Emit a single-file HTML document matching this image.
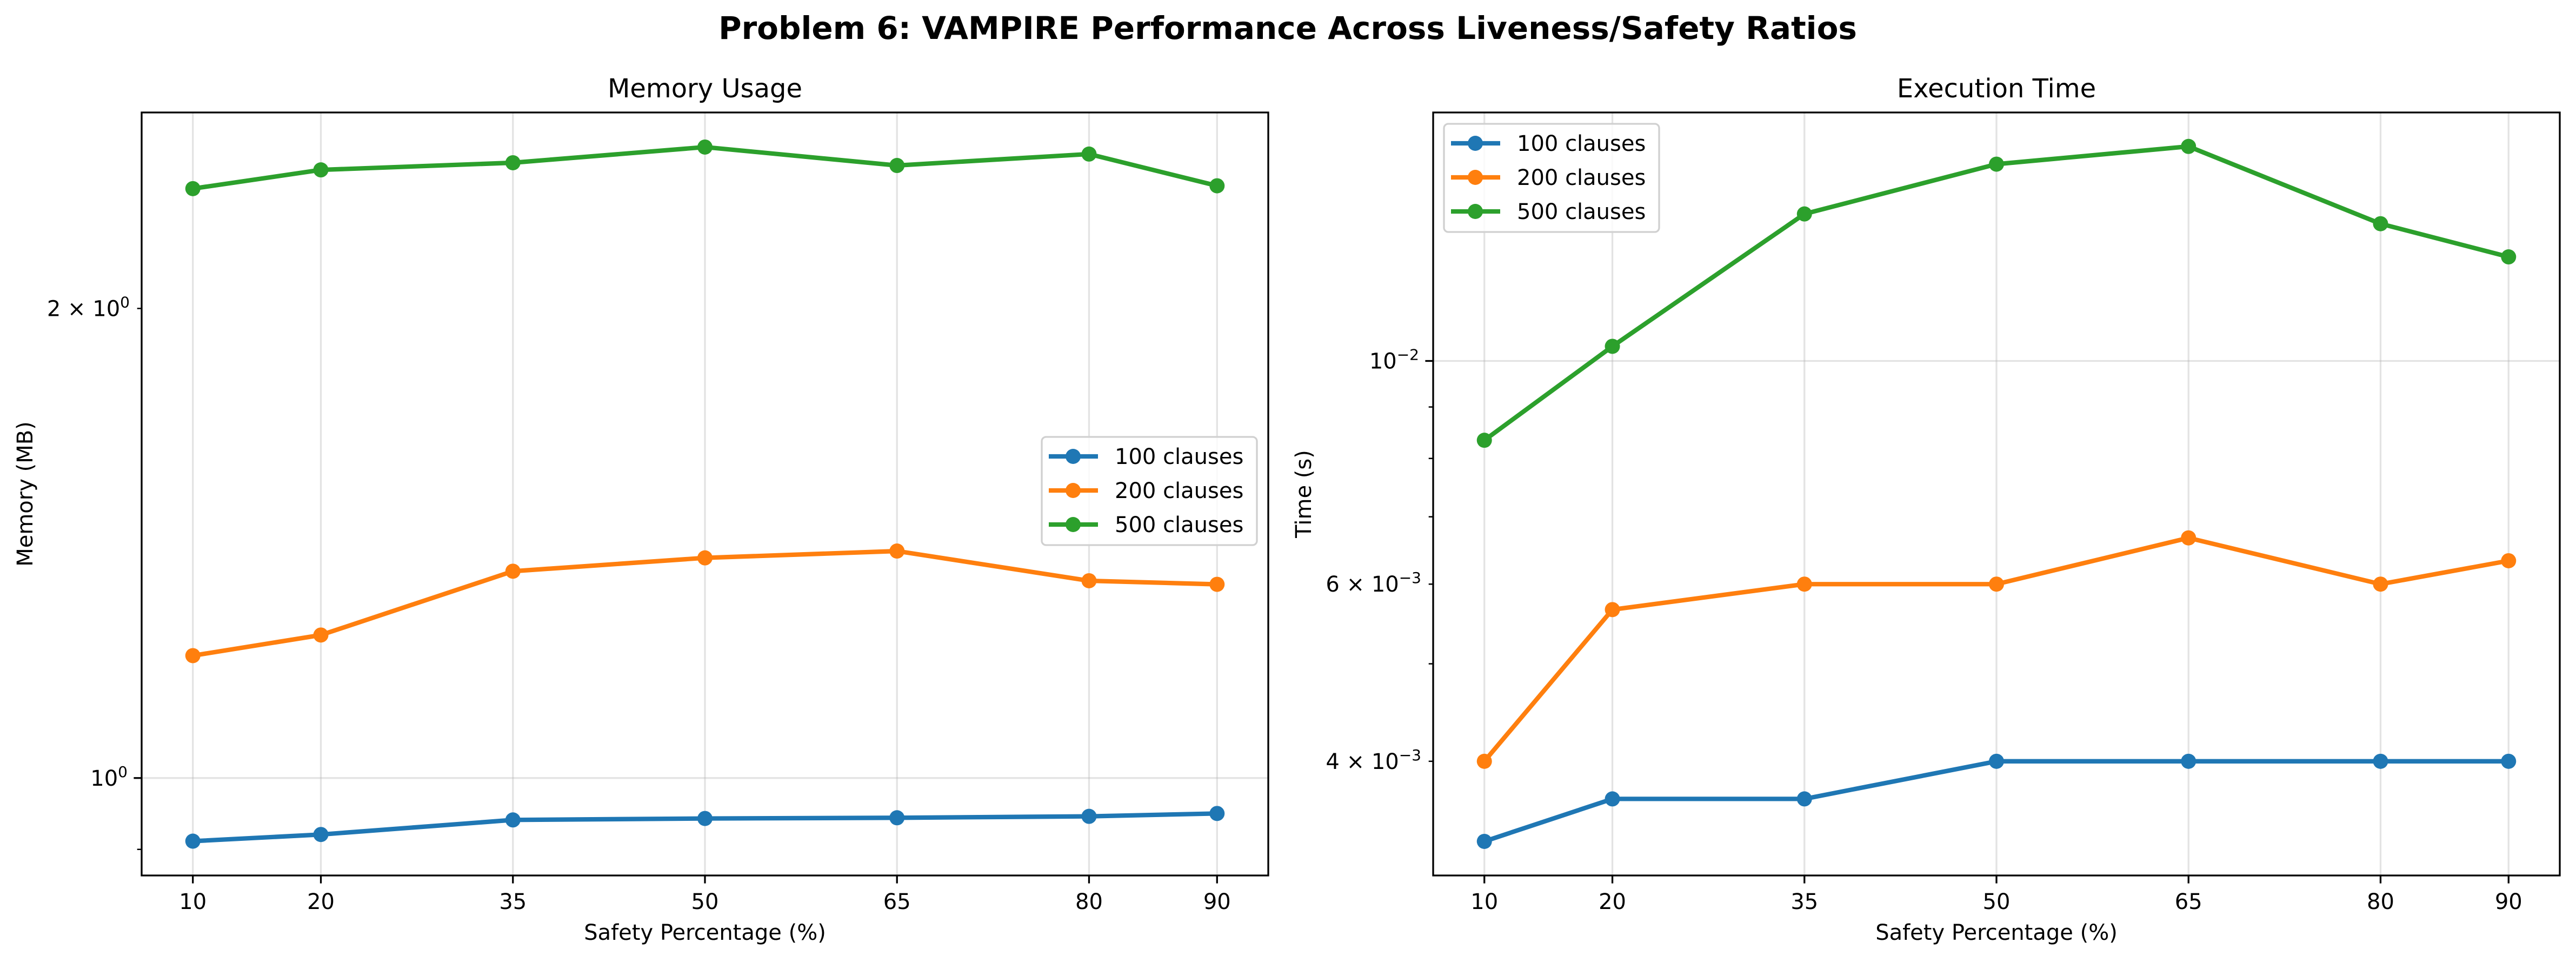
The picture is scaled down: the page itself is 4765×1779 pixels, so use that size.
<!DOCTYPE html>
<html><head><meta charset="utf-8"><style>
html,body{margin:0;padding:0;background:#fff;}
svg{display:block;font-family:"DejaVu Sans","Liberation Sans",sans-serif;}
</style></head><body>
<svg id="fig" width="4765" height="1779" viewBox="0 0 4765 1779" xmlns="http://www.w3.org/2000/svg">
<rect width="4765" height="1779" fill="#fff"/>
<text x="2382" y="72" text-anchor="middle" font-size="58" font-weight="bold">Problem 6: VAMPIRE Performance Across Liveness/Safety Ratios</text>
</svg>
<script>
const categories = [10, 20, 35, 50, 65, 80, 90];
const seriesNames = ["100 clauses", "200 clauses", "500 clauses"];
const memory100 = [0.911, 0.920, 0.940, 0.942, 0.943, 0.945, 0.949];
const memory200 = [1.198, 1.235, 1.357, 1.384, 1.398, 1.338, 1.331];
const memory500 = [2.387, 2.454, 2.480, 2.538, 2.470, 2.512, 2.397];
const time100 = [0.00333, 0.00367, 0.00367, 0.0040, 0.0040, 0.0040, 0.0040];
const time200 = [0.0040, 0.00566, 0.0060, 0.0060, 0.00667, 0.0060, 0.00633];
const time500 = [0.00834, 0.01034, 0.0140, 0.01569, 0.01634, 0.01369, 0.01269];
const memMajorTicks = [1];
const memMajorLabels = ["10|0"];
const memMinorTicks = [0.9, 2];
const memMinorLabels = ["", "2 × 10|0"];
const timeMajorTicks = [0.01];
const timeMajorLabels = ["10|−2"];
const timeMinorTicks = [0.004, 0.005, 0.006, 0.007, 0.008, 0.009];
const timeMinorLabels = ["4 × 10|−3", "", "6 × 10|−3", "", "", ""];

const colors = ["#1f77b4", "#ff7f0e", "#2ca02c"];
const NS = "http://www.w3.org/2000/svg";
const svg = document.getElementById("fig");
function mk(tag, attrs, parent) {
  const e = document.createElementNS(NS, tag);
  for (const k in attrs) e.setAttribute(k, attrs[k]);
  (parent || svg).appendChild(e);
  return e;
}
function supText(label, x, y, parent) {
  const t = mk("text", {x: x, y: y, "text-anchor": "end", "font-size": 40}, parent);
  const parts = label.split("|");
  t.appendChild(document.createTextNode(parts[0]));
  const s = mk("tspan", {"font-size": 28, dy: -16}, t);
  s.textContent = parts[1];
  return t;
}

function drawPanel(cfg) {
  const g = mk("g", {});
  
  
  const L = cfg.left, R = cfg.right, T = 208, B = 1619;
  const xmin = 6, xmax = 94;
  const xs = v => L + (v - xmin) / (xmax - xmin) * (R - L);
  const lmin = Math.log10(cfg.ymin), lmax = Math.log10(cfg.ymax);
  const ys = v => B - (Math.log10(v) - lmin) / (lmax - lmin) * (B - T);
  categories.forEach(c => {
    const gl = mk("line", {x1: xs(c), x2: xs(c), y1: T, y2: B, stroke: "#b0b0b0", "stroke-opacity": 0.35, "stroke-width": 3.3}, g);
    
    
  });
  cfg.major.forEach(v => {
    const gl = mk("line", {x1: L, x2: R, y1: ys(v), y2: ys(v), stroke: "#b0b0b0", "stroke-opacity": 0.35, "stroke-width": 3.3}, g);
    
    
  });
  cfg.series.forEach((arr, i) => {
    const pts = arr.map((v, j) => xs(categories[j]) + "," + ys(v)).join(" ");
    const pl = mk("polyline", {points: pts, fill: "none", stroke: colors[i], "stroke-width": 8.3, "stroke-linejoin": "round", "stroke-linecap": "square"}, g);
    
    
    arr.forEach((v, j) => {
      const c = mk("circle", {cx: xs(categories[j]), cy: ys(v), r: 14, fill: colors[i]}, g);
      
      
    });
  });
  const fr = mk("rect", {x: L, y: T, width: R - L, height: B - T, fill: "none", stroke: "#000", "stroke-width": 3.3}, g);
  
  
  categories.forEach(c => {
    mk("line", {x1: xs(c), x2: xs(c), y1: B, y2: B + 14.6, stroke: "#000", "stroke-width": 3.3}, g);
    const t = mk("text", {x: xs(c), y: 1681, "text-anchor": "middle", "font-size": 40}, g);
    t.textContent = c;
    
    
  });
  cfg.major.forEach((v, i) => {
    mk("line", {x1: L, x2: L - 14.6, y1: ys(v), y2: ys(v), stroke: "#000", "stroke-width": 3.3}, g);
    const t = supText(cfg.majorLabels[i], L - 26, ys(v) + 14, g);
    
    
  });
  cfg.minor.forEach((v, i) => {
    if (v < cfg.ymin || v > cfg.ymax) return;
    mk("line", {x1: L, x2: L - 8.3, y1: ys(v), y2: ys(v), stroke: "#000", "stroke-width": 2.5}, g);
    if (cfg.minorLabels[i]) {
      const t = supText(cfg.minorLabels[i], L - 22, ys(v) + 14, g);
      
      
    }
  });
  const tt = mk("text", {x: (L + R) / 2, y: 180, "text-anchor": "middle", "font-size": 48}, g);
  tt.textContent = cfg.title;
  
  
  const xl = mk("text", {x: (L + R) / 2, y: 1738, "text-anchor": "middle", "font-size": 40}, g);
  xl.textContent = "Safety Percentage (%)";
  
  
  const yl = mk("text", {x: cfg.ylabelX, y: (T + B) / 2, "text-anchor": "middle", "font-size": 40, transform: "rotate(-90 " + cfg.ylabelX + " " + (T + B) / 2 + ")"}, g);
  yl.textContent = cfg.ylabel;
  
  
  const lg = mk("g", {}, g);
  
  
  mk("rect", {x: cfg.legX, y: cfg.legY, width: 398, height: 200, rx: 8, fill: "#fff", "fill-opacity": 0.8, stroke: "#d0d0d0", "stroke-width": 3.3}, lg);
  seriesNames.forEach((n, i) => {
    const yy = cfg.legY + 36 + i * 63;
    const e = mk("g", {}, lg);
    
    
    mk("line", {x1: cfg.legX + 13, x2: cfg.legX + 104, y1: yy, y2: yy, stroke: colors[i], "stroke-width": 8.3}, e);
    mk("circle", {cx: cfg.legX + 58, cy: yy, r: 14, fill: colors[i]}, e);
    const t = mk("text", {x: cfg.legX + 135, y: yy + 14, "font-size": 40}, e);
    t.textContent = n;
  });
}

drawPanel({name: "memory-usage-panel", left: 262, right: 2346, ymin: 0.866, ymax: 2.671,
  series: [memory100, memory200, memory500], major: memMajorTicks, majorLabels: memMajorLabels,
  minor: memMinorTicks, minorLabels: memMinorLabels, title: "Memory Usage", ylabel: "Memory (MB)",
  ylabelX: 60, legX: 1927, legY: 808});
drawPanel({name: "execution-time-panel", left: 2651, right: 4735, ymin: 0.00308, ymax: 0.01766,
  series: [time100, time200, time500], major: timeMajorTicks, majorLabels: timeMajorLabels,
  minor: timeMinorTicks, minorLabels: timeMinorLabels, title: "Execution Time", ylabel: "Time (s)",
  ylabelX: 2425, legX: 2671, legY: 229});
</script>
</body></html>
